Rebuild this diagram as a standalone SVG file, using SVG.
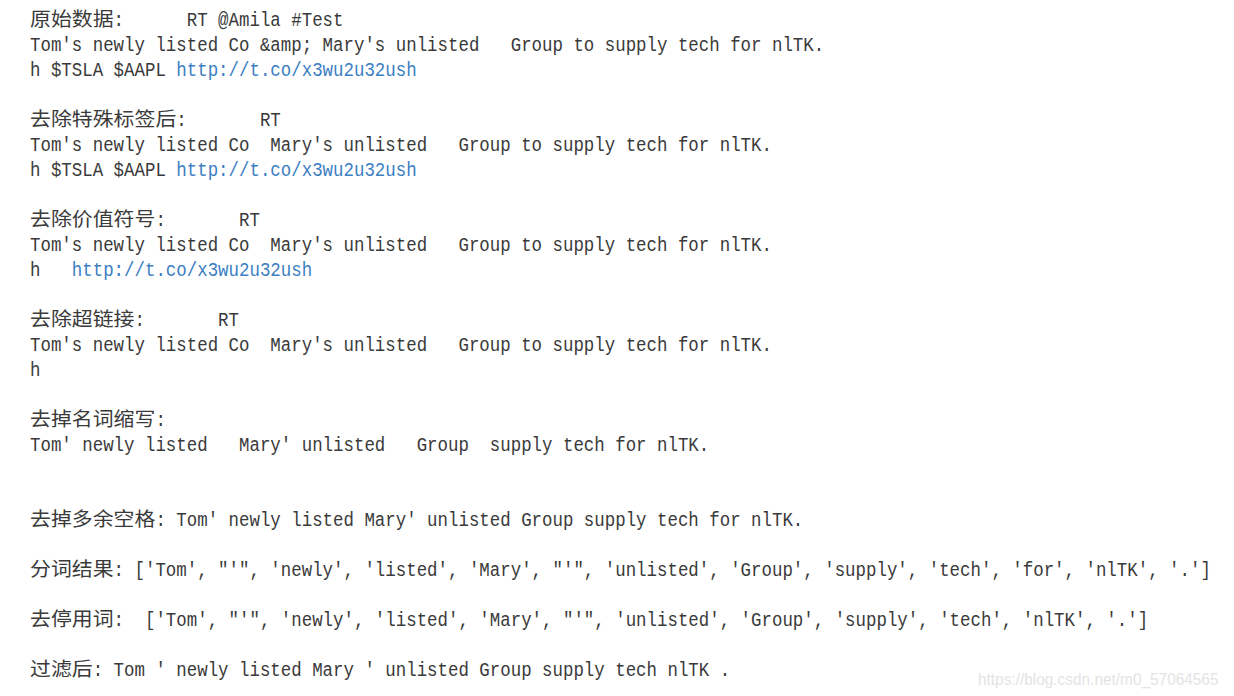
<svg xmlns="http://www.w3.org/2000/svg" width="1234" height="696" viewBox="0 0 1234 696">
<style>
.t{font-family:"Liberation Mono","DejaVu Sans Mono",monospace;font-size:17.42px;fill:#3a3a3a}
.c{font-family:"Noto Sans CJK SC","Noto Sans",sans-serif;font-size:19.5px;fill:#3a3a3a}
.u{fill:#3b7ec2}
.w{font-family:"Liberation Sans",Arial,sans-serif;font-size:15.4px;fill:#e4e4e4}
</style>
<rect width="1234" height="696" fill="#ffffff"/>
<g id="raw">
<text class="c" x="30" y="26" textLength="83.6" lengthAdjust="spacingAndGlyphs">原始数据</text>
<text class="t" transform="translate(113.6,26) scale(1,1.15)">:</text>
<text class="t" transform="translate(186.75,26) scale(1,1.15)">RT @Amila #Test</text>
<text class="t" transform="translate(30,51) scale(1,1.15)">Tom's newly listed Co &amp;amp; Mary's unlisted</text>
<text class="t" transform="translate(510.7,51) scale(1,1.15)">Group to supply tech for nlTK.</text>
<text class="t" transform="translate(30,76) scale(1,1.15)">h $TSLA $AAPL</text>
<text class="t u" transform="translate(176.3,76) scale(1,1.15)">http://t.co/x3wu2u32ush</text>
</g>
<g id="no-tags">
<text class="c" x="30" y="126" textLength="146.3" lengthAdjust="spacingAndGlyphs">去除特殊标签后</text>
<text class="t" transform="translate(176.3,126) scale(1,1.15)">:</text>
<text class="t" transform="translate(259.9,126) scale(1,1.15)">RT</text>
<text class="t" transform="translate(30,151) scale(1,1.15)">Tom's newly listed Co</text>
<text class="t" transform="translate(270.35,151) scale(1,1.15)">Mary's unlisted</text>
<text class="t" transform="translate(458.45,151) scale(1,1.15)">Group to supply tech for nlTK.</text>
<text class="t" transform="translate(30,176) scale(1,1.15)">h $TSLA $AAPL</text>
<text class="t u" transform="translate(176.3,176) scale(1,1.15)">http://t.co/x3wu2u32ush</text>
</g>
<g id="no-value">
<text class="c" x="30" y="226" textLength="125.4" lengthAdjust="spacingAndGlyphs">去除价值符号</text>
<text class="t" transform="translate(155.4,226) scale(1,1.15)">:</text>
<text class="t" transform="translate(239,226) scale(1,1.15)">RT</text>
<text class="t" transform="translate(30,251) scale(1,1.15)">Tom's newly listed Co</text>
<text class="t" transform="translate(270.35,251) scale(1,1.15)">Mary's unlisted</text>
<text class="t" transform="translate(458.45,251) scale(1,1.15)">Group to supply tech for nlTK.</text>
<text class="t" transform="translate(30,276) scale(1,1.15)">h</text>
<text class="t u" transform="translate(71.8,276) scale(1,1.15)">http://t.co/x3wu2u32ush</text>
</g>
<g id="no-link">
<text class="c" x="30" y="326" textLength="104.5" lengthAdjust="spacingAndGlyphs">去除超链接</text>
<text class="t" transform="translate(134.5,326) scale(1,1.15)">:</text>
<text class="t" transform="translate(218.1,326) scale(1,1.15)">RT</text>
<text class="t" transform="translate(30,351) scale(1,1.15)">Tom's newly listed Co</text>
<text class="t" transform="translate(270.35,351) scale(1,1.15)">Mary's unlisted</text>
<text class="t" transform="translate(458.45,351) scale(1,1.15)">Group to supply tech for nlTK.</text>
<text class="t" transform="translate(30,376) scale(1,1.15)">h</text>
</g>
<g id="no-abbrev">
<text class="c" x="30" y="426" textLength="125.4" lengthAdjust="spacingAndGlyphs">去掉名词缩写</text>
<text class="t" transform="translate(155.4,426) scale(1,1.15)">:</text>
<text class="t" transform="translate(30,451) scale(1,1.15)">Tom' newly listed</text>
<text class="t" transform="translate(239,451) scale(1,1.15)">Mary' unlisted</text>
<text class="t" transform="translate(416.65,451) scale(1,1.15)">Group</text>
<text class="t" transform="translate(489.8,451) scale(1,1.15)">supply tech for nlTK.</text>
</g>
<g id="no-spaces">
<text class="c" x="30" y="526" textLength="125.4" lengthAdjust="spacingAndGlyphs">去掉多余空格</text>
<text class="t" transform="translate(155.4,526) scale(1,1.15)">: Tom' newly listed Mary' unlisted Group supply tech for nlTK.</text>
</g>
<g id="tokens">
<text class="c" x="30" y="576" textLength="83.6" lengthAdjust="spacingAndGlyphs">分词结果</text>
<text class="t" transform="translate(113.6,576) scale(1,1.15)">: ['Tom', "'", 'newly', 'listed', 'Mary', "'", 'unlisted', 'Group', 'supply', 'tech', 'for', 'nlTK', '.']</text>
</g>
<g id="stopwords">
<text class="c" x="30" y="626" textLength="83.6" lengthAdjust="spacingAndGlyphs">去停用词</text>
<text class="t" transform="translate(113.6,626) scale(1,1.15)">:</text>
<text class="t" transform="translate(144.95,626) scale(1,1.15)">['Tom', "'", 'newly', 'listed', 'Mary', "'", 'unlisted', 'Group', 'supply', 'tech', 'nlTK', '.']</text>
</g>
<g id="filtered">
<text class="c" x="30" y="676" textLength="62.7" lengthAdjust="spacingAndGlyphs">过滤后</text>
<text class="t" transform="translate(92.7,676) scale(1,1.15)">: Tom ' newly listed Mary ' unlisted Group supply tech nlTK .</text>
</g>
<g id="connectors"></g>
<text class="w" transform="translate(978,685) scale(1,1.12)">https://blog.csdn.net/m0_57064565</text>
</svg>
